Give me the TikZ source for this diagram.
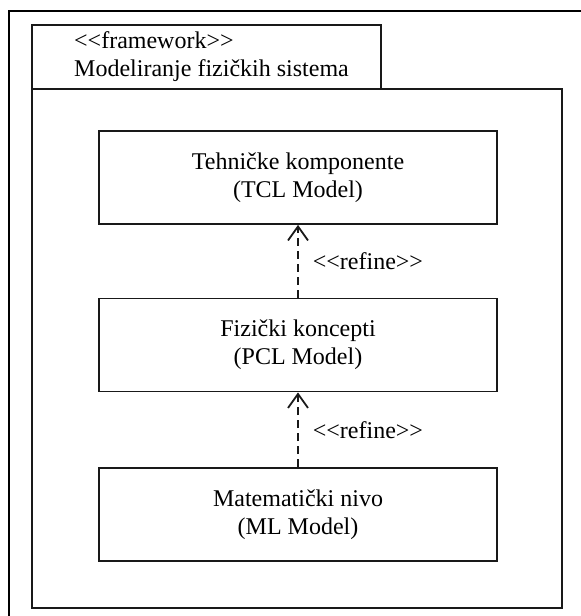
\documentclass[tikz,border=0pt]{standalone}
\usepackage{fontspec}
\setmainfont{Liberation Serif}
\usetikzlibrary{arrows.meta}
\begin{document}
\begin{tikzpicture}[x=1pt,y=-1pt,
  ln/.style={line width=1.8pt,draw=black!90},
  block/.style={ln,rectangle,minimum width=398pt,minimum height=93pt,inner sep=0pt,align=center,font=\fontsize{24}{28}\selectfont},
  lbl/.style={font=\fontsize{24}{28}\selectfont,inner sep=0pt,anchor=west},
  refine/.style={ln,dashed,dash pattern=on 8pt off 5pt,-{Straight Barb[length=14pt,width=20pt,line width=1.8pt]}}]
\useasboundingbox (0,0) rectangle (581,616);
\fill[white] (0,0) rectangle (581,616);
% outer frame (clipped on right and bottom)
\draw[line width=2pt,black] (9,616) -- (9,11) -- (581,11);
% package tab and body
\draw[ln] (32,89) rectangle (381,25);
\draw[ln] (32,89) rectangle (562,608);
\node[font=\fontsize{24}{28}\selectfont,align=left,inner sep=0pt,anchor=west] (hdr) at (74,57) {<{}<framework>{}>\\Modeliranje fizičkih sistema};
% blocks
\node[block] (tcl) at (298,177.5) {Tehničke komponente\\(TCL Model)};
\node[block] (pcl) at (298,345) {Fizički koncepti\\(PCL Model)};
\node[block] (ml) at (298,514.5) {Matematički nivo\\(ML Model)};
\draw[refine] (pcl) -- (tcl) node[midway,lbl,xshift=14pt] (r1) {<{}<refine>{}>};
\draw[refine] (ml) -- (pcl) node[midway,lbl,xshift=14pt] (r2) {<{}<refine>{}>};
\end{tikzpicture}
\end{document}
